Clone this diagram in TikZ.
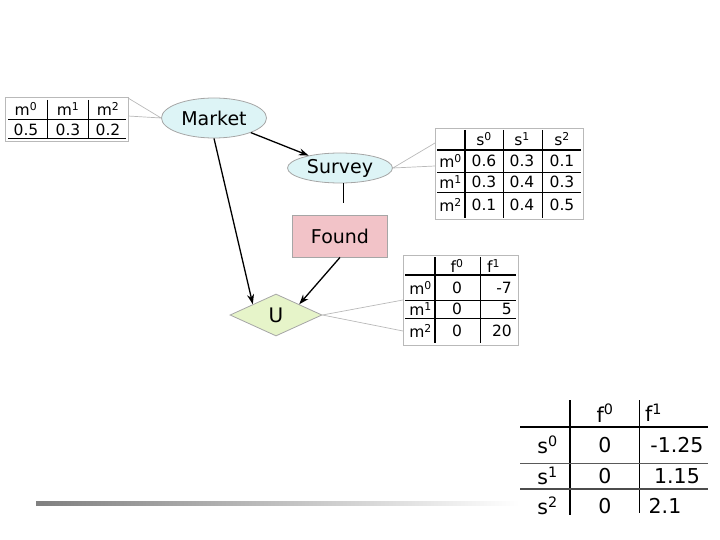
\documentclass[tikz,border=0pt]{standalone}
\usepackage{fontspec}
\setmainfont{DejaVu Sans}
\usepackage{xcolor}
\usepackage{tikz}
\usetikzlibrary{arrows.meta, positioning, calc, shapes.geometric}

\definecolor{chancefill}{HTML}{DDF4F6}
\definecolor{foundfill}{HTML}{F2C3C8}
\definecolor{utilfill}{HTML}{E6F4C9}
\newcommand{\vsup}[2]{#1\textsuperscript{#2}}

\begin{document}
\begin{tikzpicture}[x=1pt, y=-1pt,
    chance/.style={ellipse, draw=gray!70, line width=0.8pt, fill=chancefill, inner sep=0pt, font=\fontsize{19}{19}\selectfont},
    decision/.style={rectangle, draw=gray!70, line width=0.8pt, fill=foundfill, minimum width=95pt, minimum height=42pt, font=\fontsize{19}{19}\selectfont},
    utility/.style={diamond, draw=gray!70, line width=0.8pt, fill=utilfill, minimum width=92pt, minimum height=42pt, inner sep=0pt, font=\fontsize{20}{20}\selectfont},
    link/.style={-{Stealth[length=10pt, width=7pt]}, line width=1.3pt},
    call/.style={draw=gray!55, line width=0.7pt},
    tbox/.style={draw=gray!55, line width=0.7pt},
    thick rule/.style={line width=1.6pt},
    thin rule/.style={line width=0.6pt},
    cell/.style={inner sep=0pt, font=\fontsize{15.5}{15.5}\selectfont},
    bigcell/.style={inner sep=0pt, font=\fontsize{20.5}{20.5}\selectfont}]
    \useasboundingbox (0,0) rectangle (720,540);

    % nodes of the network
    \node[chance, minimum width=105pt, minimum height=40pt] (market) at (214,118) {Market};
    \node[chance, minimum width=105pt, minimum height=30pt] (survey) at (340,168) {Survey};
    \node[decision] (found) at (340,236) {Found};
    \node[utility] (u) at (276,315) {U};

    \draw[link] (market) -- (survey);
    \draw[link] (market.south) -- (u.north west);
    \draw[link] (found.south) -- (u.north east);
    \coordinate (stub) at (343,203);
    \draw[line width=0.8pt] ([xshift=3pt]survey.south) -- (stub);

    % table of Market
    \draw[tbox] (5,97) rectangle (128,141);
    \coordinate (mt-a) at (128,98);
    \coordinate (mt-b) at (128,116);
    \draw[call] (mt-a) -- (market.west) -- (mt-b);
    \draw[thick rule, line width=1pt] (8,120) -- (126,120);
    \draw[thin rule] (8,138) -- (126,138);
    \foreach \x in {47,88} \draw[thin rule] (\x,100) -- (\x,138);
    \foreach \v/\x [count=\i from 0] in {0.5/26,0.3/68,0.2/108} {
        \node[cell] (mh\i) at (\x,109) {\vsup{m}{\i}};
        \node[cell] (mv\i) at (\x,130) {\v};
    }

    % table of Survey
    \draw[tbox] (435,128) rectangle (583,219);
    \coordinate (st-a) at (435,143);
    \coordinate (st-b) at (435,166);
    \draw[call] (st-a) -- (survey.east) -- (st-b);
    \draw[thick rule] (465,130) -- (465,218);
    \draw[thick rule] (437,150) -- (581,150);
    \foreach \x in {503,542} \draw[thin rule] (\x,130) -- (\x,218);
    \foreach \y in {172,192} \draw[thin rule] (437,\y) -- (581,\y);
    \foreach \x [count=\i from 0] in {484,522,562}
        \node[cell] (sh\i) at (\x,139) {\vsup{s}{\i}};
    \foreach \a/\b/\c/\y [count=\i from 0] in {0.6/0.3/0.1/161, 0.3/0.4/0.3/182, 0.1/0.4/0.5/205} {
        \node[cell, anchor=east] (sr\i) at (462,\y) {\vsup{m}{\i}};
        \node[cell] (sa\i) at (484,\y) {\a};
        \node[cell] (sb\i) at (522,\y) {\b};
        \node[cell] (sc\i) at (562,\y) {\c};
    }

    % table of U
    \draw[tbox] (403,255) rectangle (518,345);
    \coordinate (ut-a) at (403,300);
    \coordinate (ut-b) at (403,331);
    \draw[call] (ut-a) -- (u.east) -- (ut-b);
    \draw[thick rule] (435,257) -- (435,343);
    \draw[thin rule] (480,257) -- (480,343);
    \draw[thick rule] (405,275) -- (516,275);
    \foreach \y in {300,318} \draw[thin rule] (405,\y) -- (516,\y);
    \node[cell] (uh0) at (457,266) {\vsup{f}{0}};
    \node[cell, anchor=west] (uh1) at (487,266) {\vsup{f}{1}};
    \foreach \v/\y [count=\i from 0] in {-7/288, 5/309, 20/331} {
        \node[cell, anchor=east] (ur\i) at (432,\y) {\vsup{m}{\i}};
        \node[cell] (uz\i) at (457,\y) {0};
        \node[cell, anchor=east] (uv\i) at (512,\y) {\v};
    }

    % expected utility given the survey
    \draw[line width=2pt] (570,400) -- (570,515);
    \draw[line width=1pt] (639,400) -- (639,513);
    \draw[line width=2pt] (520,427) -- (708,427);
    \draw[thin rule, gray!70!black] (520,463) -- (708,463);
    \draw[line width=1.2pt, gray!60!black] (520,489) -- (708,489);
    \node[bigcell] (eh0) at (605,413) {\vsup{f}{0}};
    \node[bigcell, anchor=west] (eh1) at (645,413) {\vsup{f}{1}};
    \foreach \v/\x/\y [count=\i from 0] in {-1.25/677/445, 1.15/677/476, 2.1/665/506} {
        \node[bigcell, anchor=east] (er\i) at (558,\y) {\vsup{s}{\i}};
        \node[bigcell] (ez\i) at (605,\y) {0};
        \node[bigcell] (ev\i) at (\x,\y) {\v};
    }

    \shade[left color=gray, right color=white] (36,501) rectangle (519,505);
\end{tikzpicture}
\end{document}
